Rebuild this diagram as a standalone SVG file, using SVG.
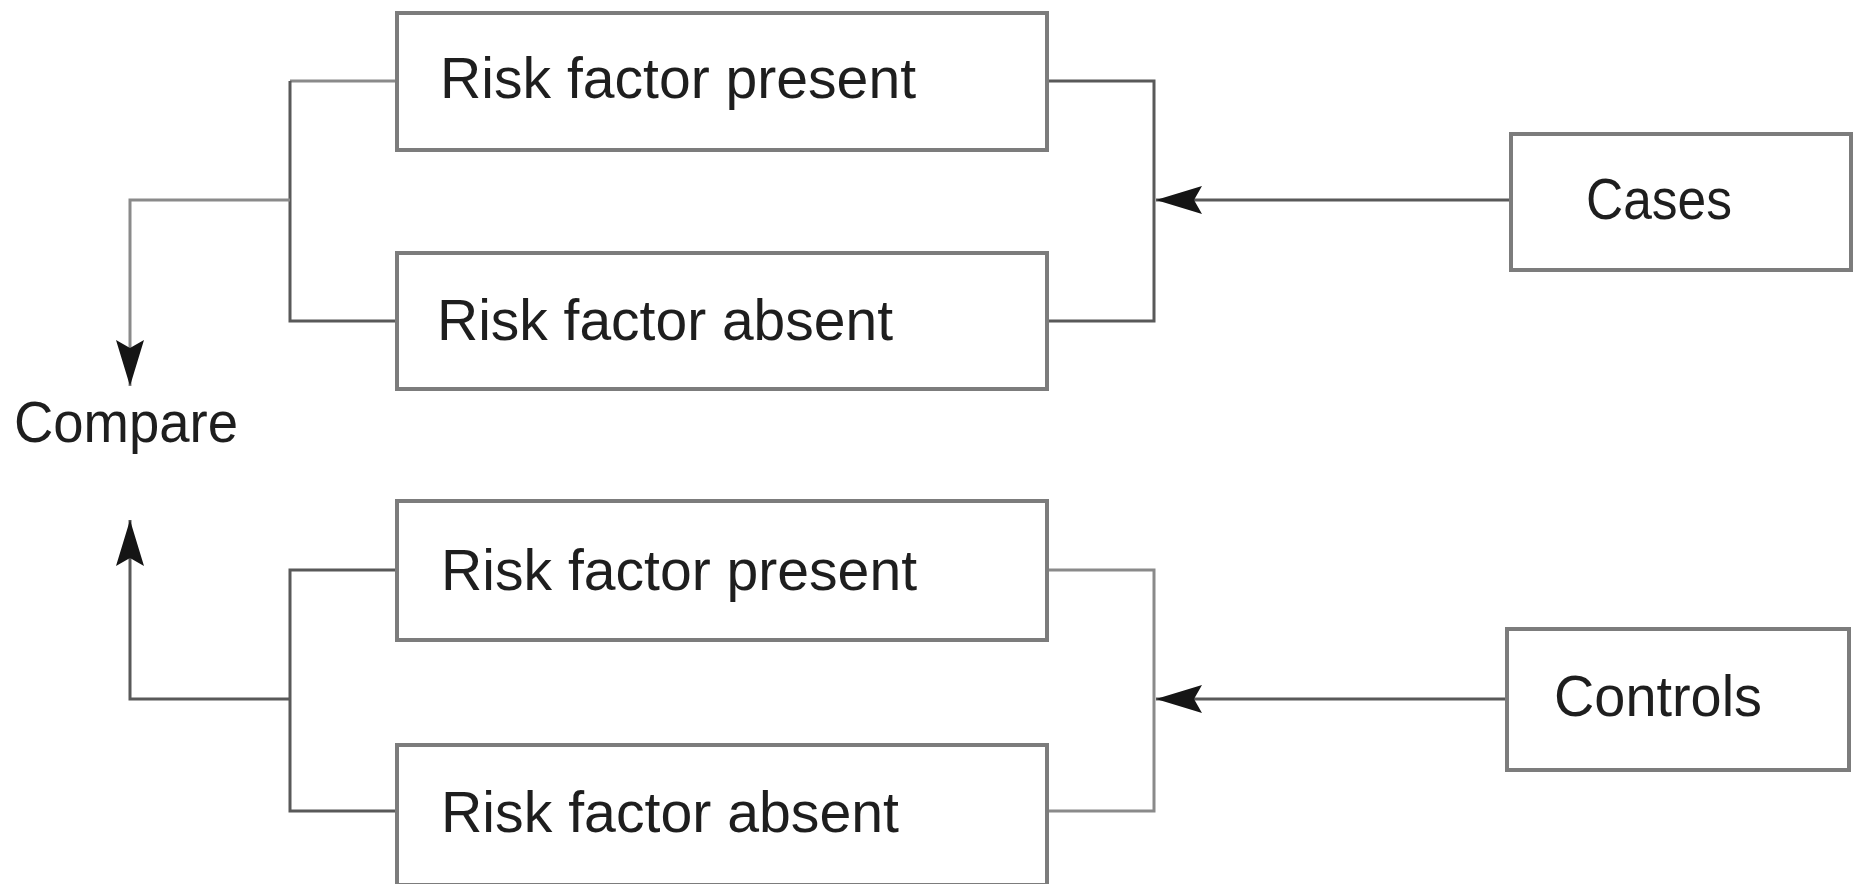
<svg xmlns="http://www.w3.org/2000/svg" width="1858" height="884" viewBox="0 0 1858 884">
  <style>
    .box { fill: #ffffff; stroke: #7c7c7c; stroke-width: 4; }
    .label { font-family: "Liberation Sans", Arial, sans-serif; font-size: 58px; fill: #1e1e1e; }
    .wire { fill: none; stroke: #595959; stroke-width: 3; }
    .wire-light { fill: none; stroke: #8a8a8a; stroke-width: 3; }
  </style>
  <defs>
    <marker id="arrow" viewBox="0 0 46 28" refX="46" refY="14" markerWidth="46" markerHeight="28" markerUnits="userSpaceOnUse" orient="auto">
      <path d="M0,0 L46,14 L0,28 L8,14 Z" fill="#151515"/>
    </marker>
  </defs>
  <rect width="1858" height="884" fill="#ffffff"/>

  <!-- connectors -->
  <g id="connectors">
    <!-- upper group: cases split into risk factor present / absent -->
    <path class="wire" d="M1511,200 L1156,200" marker-end="url(#arrow)"/>
    <path class="wire" d="M1047,81 L1154,81 L1154,321 L1047,321"/>
    <path class="wire-light" d="M397,81 L290,81"/>
    <path class="wire" d="M290,81 L290,321 L397,321"/>
    <path class="wire-light" d="M290,200 L130,200 L130,386" marker-end="url(#arrow)"/>
    <!-- lower group: controls split into risk factor present / absent -->
    <path class="wire" d="M1507,699 L1156,699" marker-end="url(#arrow)"/>
    <path class="wire-light" d="M1047,570 L1154,570 L1154,811 L1047,811"/>
    <path class="wire" d="M397,570 L290,570 L290,811 L397,811"/>
    <path class="wire" d="M290,699 L130,699 L130,520" marker-end="url(#arrow)"/>
  </g>

  <g id="rf-present-cases">
    <rect class="box" x="397" y="13" width="650" height="137"/>
    <text class="label" x="440" y="98" textLength="476" lengthAdjust="spacingAndGlyphs">Risk factor present</text>
  </g>
  <g id="rf-absent-cases">
    <rect class="box" x="397" y="253" width="650" height="136"/>
    <text class="label" x="437" y="340" textLength="456" lengthAdjust="spacingAndGlyphs">Risk factor absent</text>
  </g>
  <g id="cases">
    <rect class="box" x="1511" y="134" width="340" height="136"/>
    <text class="label" x="1586" y="219" textLength="146" lengthAdjust="spacingAndGlyphs">Cases</text>
  </g>
  <g id="compare">
    <text class="label" x="14" y="442" textLength="224" lengthAdjust="spacingAndGlyphs">Compare</text>
  </g>
  <g id="rf-present-controls">
    <rect class="box" x="397" y="501" width="650" height="139"/>
    <text class="label" x="441" y="590" textLength="476" lengthAdjust="spacingAndGlyphs">Risk factor present</text>
  </g>
  <g id="rf-absent-controls">
    <rect class="box" x="397" y="745" width="650" height="140"/>
    <text class="label" x="441" y="832" textLength="458" lengthAdjust="spacingAndGlyphs">Risk factor absent</text>
  </g>
  <g id="controls">
    <rect class="box" x="1507" y="629" width="342" height="141"/>
    <text class="label" x="1554" y="716" textLength="208" lengthAdjust="spacingAndGlyphs">Controls</text>
  </g>
</svg>
